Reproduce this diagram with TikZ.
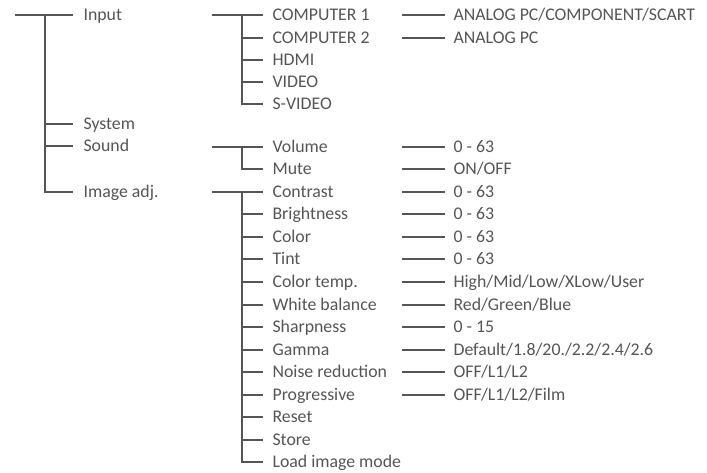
\documentclass[tikz,border=0pt]{standalone}
\usepackage{fontspec}
\setmainfont{Carlito}
\definecolor{ink}{HTML}{555555}
\begin{document}
\begin{tikzpicture}[x=1pt,y=-1pt,line width=1.1pt,color=ink,
  lbl/.style={text=ink,font=\fontsize{17.8}{20}\selectfont,anchor=west,inner ysep=0pt,text height=11.5pt,text depth=0pt},
  lone/.style={lbl,inner xsep=10pt},
  ltwo/.style={lbl,inner xsep=9pt},
  lthree/.style={lbl,inner xsep=8pt}]
\useasboundingbox (0,0) rectangle (707,473);
% level 1
\node[lone] (input) at (73,15) {Input};
\node[lone] (system) at (73,124) {System};
\node[lone] (sound) at (73,146) {Sound};
\node[lone] (imgadj) at (73,192) {Image adj.};
\coordinate (root) at (15,15);
\coordinate (rootv) at (45,15);
\draw (root) -- (input.west);
\draw (rootv) |- (imgadj.west);
\foreach \n in {system,sound} \draw (rootv |- \n.west) -- (\n.west);
% level 2: input
\node[ltwo] (c1) at (263,15) {COMPUTER 1};
\node[ltwo] (c2) at (263,38) {COMPUTER 2};
\node[ltwo] (hdmi) at (263,60) {HDMI};
\node[ltwo] (video) at (263,82) {VIDEO};
\node[ltwo] (svideo) at (263,104) {S-VIDEO};
\coordinate (ga) at (212,15);
\coordinate (gav) at (242,15);
\draw (ga) -- (c1.west);
\draw (gav) |- (svideo.west);
\foreach \n in {c2,hdmi,video} \draw (gav |- \n.west) -- (\n.west);
% level 2: sound
\node[ltwo] (volume) at (263,147) {Volume};
\node[ltwo] (mute) at (263,169) {Mute};
\coordinate (gb) at (212,147);
\coordinate (gbv) at (242,147);
\draw (gb) -- (volume.west);
\draw (gbv) |- (mute.west);
% level 2: image adj
\node[ltwo] (contrast) at (263,192) {Contrast};
\node[ltwo] (bright) at (263,214) {Brightness};
\node[ltwo] (color) at (263,237) {Color};
\node[ltwo] (tint) at (263,259) {Tint};
\node[ltwo] (ctemp) at (263,282) {Color temp.};
\node[ltwo] (wbal) at (263,305) {White balance};
\node[ltwo] (sharp) at (263,327) {Sharpness};
\node[ltwo] (gamma) at (263,350) {Gamma};
\node[ltwo] (noise) at (263,372) {Noise reduction};
\node[ltwo] (prog) at (263,395) {Progressive};
\node[ltwo] (reset) at (263,417) {Reset};
\node[ltwo] (store) at (263,440) {Store};
\node[ltwo] (load) at (263,462) {Load image mode};
\coordinate (gc) at (212,192);
\coordinate (gcv) at (242,192);
\draw (gc) -- (contrast.west);
\draw (gcv) |- (load.west);
\foreach \n in {bright,color,tint,ctemp,wbal,sharp,gamma,noise,prog,reset,store}
  \draw (gcv |- \n.west) -- (\n.west);
% level 3
\foreach \n/\y/\t in {v1/15/ANALOG PC\slash COMPONENT\slash SCART, v2/38/ANALOG PC,
  v3/147/0 - 63, v4/169/ON\slash OFF, v5/192/0 - 63, v6/214/0 - 63, v7/237/0 - 63,
  v8/259/0 - 63, v9/282/High\slash Mid\slash Low\slash XLow\slash User,
  v10/305/Red\slash Green\slash Blue, v11/327/0 - 15,
  v12/350/Default\slash 1.8\slash 20.\slash 2.2\slash 2.4\slash 2.6,
  v13/372/OFF\slash L1\slash L2, v14/395/OFF\slash L1\slash L2\slash Film}
{
  \node[lthree] (\n) at (445,\y) {\t};
  \draw (\n.west) -- ++(-43,0);
}
\end{tikzpicture}
\end{document}
